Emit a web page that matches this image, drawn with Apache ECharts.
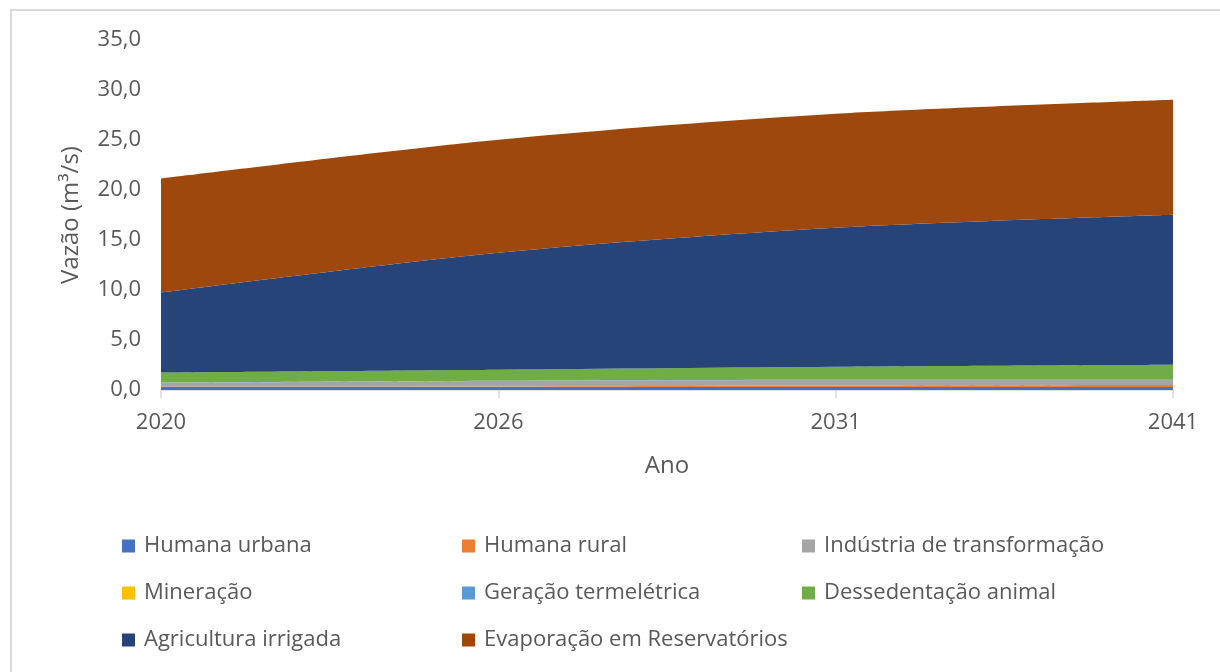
<!DOCTYPE html>
<html>
<head>
<meta charset="utf-8">
<script src="https://cdn.jsdelivr.net/npm/echarts@6/dist/echarts.min.js"></script>
<style>
  html, body { margin: 0; padding: 0; background: #fff; }
  #chart { width: 1220px; height: 672px; }
</style>
</head>
<body>
<div id="chart"></div>
<script>
var anos = ['2020', '2026', '2031', '2041'];

var humanaUrbana = [0.30, 0.30, 0.30, 0.30];
var humanaRural = [0.02, 0.05, 0.15, 0.20];
var industria = [0.40, 0.55, 0.55, 0.50];
var mineracao = [0.01, 0.01, 0.01, 0.01];
var geracao = [0.01, 0.01, 0.01, 0.01];
var dessedentacao = [1.00, 1.10, 1.30, 1.50];
var agricultura = [8.00, 11.70, 13.90, 15.00];
var evaporacao = [11.40, 11.30, 11.40, 11.50];

var nomes = ['Humana urbana', 'Humana rural', 'Indústria de transformação',
    'Mineração', 'Geração termelétrica', 'Dessedentação animal',
    'Agricultura irrigada', 'Evaporação em Reservatórios'];
var valores = [humanaUrbana, humanaRural, industria, mineracao, geracao,
    dessedentacao, agricultura, evaporacao];
var cores = ['#4472C4', '#ED7D31', '#A5A5A5', '#FFC000', '#5B9BD5',
    '#70AD47', '#264478', '#9E480E'];

var fonte = '"Open Sans", "Noto Sans", sans-serif';
var corTexto = '#595959';

var series = [];
for (var i = 0; i < nomes.length; i++) {
    series.push({
        name: nomes[i],
        type: 'line',
        stack: 'total',
        smooth: 0.3,
        showSymbol: false,
        lineStyle: { width: 0 },
        areaStyle: { color: cores[i], opacity: 1 },
        itemStyle: { color: cores[i] },
        data: valores[i]
    });
}

// legenda em 3 colunas x 3 linhas
var legendas = [];
var colX = [122, 462, 802];
var linY = [535, 582, 629];
for (var j = 0; j < nomes.length; j++) {
    legendas.push({
        data: [nomes[j]],
        left: colX[j % 3],
        top: linY[Math.floor(j / 3)],
        padding: 0,
        itemWidth: 13,
        itemHeight: 13,
        itemGap: 0,
        icon: 'rect',
        selectedMode: false,
        textStyle: { fontFamily: fonte, fontSize: 22, color: corTexto, padding: [0, 0, 0, 4] }
    });
}

var chart = echarts.init(document.getElementById('chart'), null, { renderer: 'canvas' });
chart.setOption({
    animation: false,
    backgroundColor: '#fff',
    graphic: [{
        type: 'rect',
        shape: { x: 11, y: 10, width: 1220, height: 670 },
        style: { fill: 'none', stroke: '#d9d9d9', lineWidth: 2 },
        silent: true
    }],
    legend: legendas,
    grid: { left: 161, right: 47, top: 40, bottom: 282 },
    xAxis: {
        type: 'category',
        data: anos,
        boundaryGap: false,
        name: 'Ano',
        nameLocation: 'middle',
        nameGap: 64,
        nameTextStyle: { fontFamily: fonte, fontSize: 24, color: corTexto },
        axisLine: { lineStyle: { color: '#d9d9d9', width: 1.5 } },
        axisTick: { show: true, length: 8, lineStyle: { color: '#d9d9d9', width: 1.5 } },
        axisLabel: { fontFamily: fonte, fontSize: 22, color: corTexto, margin: 22 },
        splitLine: { show: false }
    },
    yAxis: {
        type: 'value',
        min: 0,
        max: 35,
        interval: 5,
        name: 'Vazão (m³/s)',
        nameLocation: 'middle',
        nameGap: 78,
        nameTextStyle: { fontFamily: fonte, fontSize: 24, color: corTexto },
        axisLine: { show: false },
        axisTick: { show: false },
        splitLine: { show: false },
        axisLabel: {
            fontFamily: fonte, fontSize: 22, color: corTexto, margin: 20,
            formatter: function (v) { return v.toFixed(1).replace('.', ','); }
        }
    },
    series: series
});
</script>
</body>
</html>
